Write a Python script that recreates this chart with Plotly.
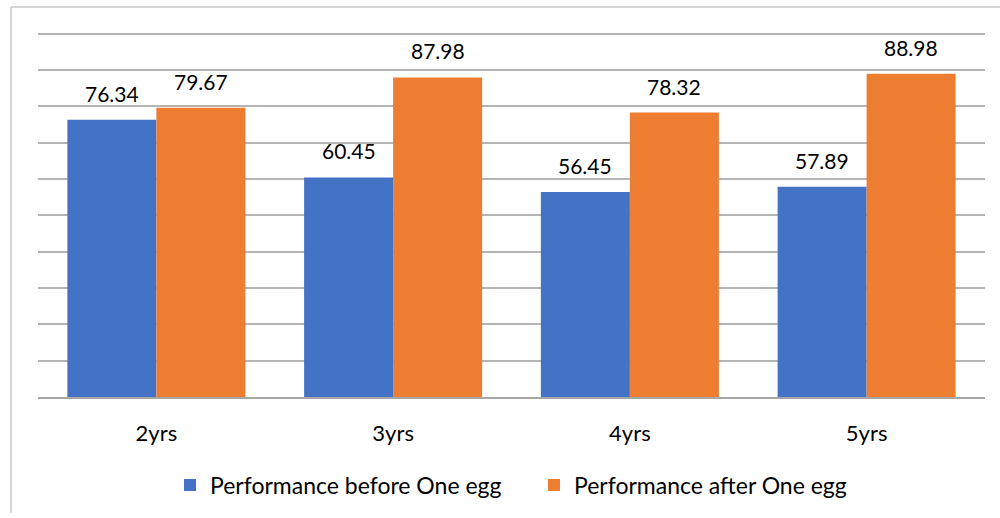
import plotly.graph_objects as go

categories = ["2yrs", "3yrs", "4yrs", "5yrs"]
before_vals = [76.34, 60.45, 56.45, 57.89]
after_vals = [79.67, 87.98, 78.32, 88.98]
series_names = ["Performance before One egg", "Performance after One egg"]

BLUE = "#4472C4"
ORANGE = "#ED7D31"
FONT = "Lato, 'Open Sans', sans-serif"

W, H = 1000, 518
Y_MAX = 100.5
L, R, B = 38, 15, 117
plot_w = W - L - R
plot_h = 367 * Y_MAX / 100
T = H - B - plot_h

fig = go.Figure()
for name, vals, col in [(series_names[0], before_vals, BLUE), (series_names[1], after_vals, ORANGE)]:
    fig.add_trace(go.Bar(
        x=categories, y=vals, name=name, marker=dict(color=col, line=dict(width=0)),
        offsetgroup=name,
    ))

# value labels above each bar
for i, (vals, shift) in enumerate([(before_vals, -0.1875), (after_vals, 0.1875)]):
    for k, v in enumerate(vals):
        fig.add_annotation(x=k + shift, y=v, xref="x", yref="y", text=f"{v:.2f}",
                           showarrow=False, yanchor="bottom", yshift=12,
                           font=dict(size=21, color="#000000", family=FONT))

def px_x(px):
    return (px - L) / plot_w

def px_y(py):
    return (H - B - py) / plot_h

# outer frame lines (top and left edges)
fig.add_shape(type="line", xref="paper", yref="paper",
              x0=px_x(11), x1=px_x(1000), y0=px_y(7), y1=px_y(7),
              line=dict(color="#C8C8C8", width=1.5))
fig.add_shape(type="line", xref="paper", yref="paper",
              x0=px_x(11), x1=px_x(11), y0=px_y(7), y1=px_y(518),
              line=dict(color="#C8C8C8", width=1.5))

fig.update_layout(
    width=W, height=H,
    margin=dict(l=L, r=R, t=T, b=B, pad=0),
    paper_bgcolor="white", plot_bgcolor="white",
    barmode="group", bargap=0.248, bargroupgap=0,
    font=dict(family=FONT, size=18, color="#000000"),
    showlegend=True,
    legend=dict(orientation="h", x=px_x(534), xanchor="center", y=px_y(490), yanchor="middle",
                font=dict(size=23, color="#000000", family=FONT),
                itemwidth=30, entrywidth=319, entrywidthmode="pixels",
                traceorder="normal"),
    xaxis=dict(showgrid=False, showline=True, linecolor="#A6A6A6", linewidth=1.5,
               ticks="outside", ticklen=16, tickcolor="rgba(0,0,0,0)",
               tickfont=dict(size=22, color="#000000", family=FONT)),
    yaxis=dict(range=[0, Y_MAX], dtick=10, showgrid=True, gridcolor="#B4B4B4", gridwidth=1.5,
               showticklabels=False, zeroline=False, showline=False),
)

fig.write_html("out.html")
